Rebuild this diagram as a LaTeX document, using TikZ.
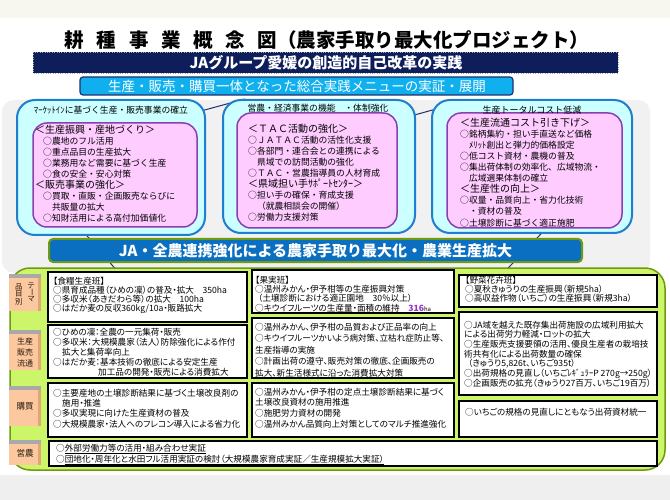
\documentclass[tikz,border=0pt]{standalone}
\usepackage{fontspec}
\setmainfont{Noto Sans CJK JP}
\newfontfamily\pj[RawFeature=+palt]{Noto Sans CJK JP}
\definecolor{topc}{HTML}{F7F7F0}
\definecolor{botc}{HTML}{EFEFEF}
\definecolor{bgg}{HTML}{F1F1F1}
\definecolor{navyc}{HTML}{0E1E5B}
\definecolor{navyl}{HTML}{1F2F6F}
\definecolor{cyanbar}{HTML}{10B0EE}
\definecolor{cloudf}{HTML}{CCFFFF}
\definecolor{cloudb}{HTML}{1E7FCF}
\definecolor{innerf}{HTML}{FFCCFF}
\definecolor{innerb}{HTML}{8A3FB0}
\definecolor{jablue}{HTML}{0A6FC0}
\definecolor{olivec}{HTML}{6F9A10}
\definecolor{panelg}{HTML}{CCF56A}
\definecolor{tabc}{HTML}{FCC8A0}
\definecolor{tabd}{HTML}{E2A676}
\definecolor{tabs}{HTML}{A9A9A9}
\definecolor{labc}{HTML}{2A1A0A}
\definecolor{purp}{HTML}{9933CC}
\newcommand{\myhd}[1]{{\fontsize{10}{11}\selectfont #1}}
\newcommand{\mytab}[2]{%
  \fill[tabc] (9,#1) rectangle (41,#2);
  \fill[tabd] (38,#1) rectangle (41,#2);
  \fill[tabs] (9,#1) rectangle (41,#1+4);}
\begin{document}
\begin{tikzpicture}[x=1pt,y=-1pt,
  cloud/.style={draw=cloudb,line width=2pt,fill=cloudf,rounded corners=18pt},
  innerbox/.style={draw=innerb,line width=1.5pt,fill=innerf,rounded corners=14pt},
  tbox/.style={draw=black,line width=1.6pt,fill=white},
  txt/.style={anchor=north west,align=left,inner sep=0pt,text=black},
  ctitle/.style={inner sep=0pt,font=\fontsize{8.8}{10}\selectfont},
  cbody/.style={txt,font=\fontsize{8.8}{11}\selectfont},
  lab/.style={inner sep=0pt,align=center,text=labc,font=\fontsize{8}{11}\selectfont},
  deco/.style={draw=navyl,line width=1pt}]
\useasboundingbox (0,0) rectangle (670,500);
\fill[white] (0,0) rectangle (670,500);
\fill[topc] (0,0) rectangle (670,18);
\fill[botc] (0,475) rectangle (670,500);
\fill[bgg,rounded corners=12pt] (2,100) rectangle (650,273);
% decorative lines behind
\coordinate (d1a) at (190,114); \coordinate (d1b) at (245,99);
\coordinate (d2a) at (400,119); \coordinate (d2b) at (447,106);
\coordinate (d3a) at (78.6,226); \coordinate (d3b) at (121.4,276);
\coordinate (d4a) at (548.6,226); \coordinate (d4b) at (500.4,276);
\draw[deco] (d1a)--(d1b) (d2a)--(d2b) (d3a)--(d3b) (d4a)--(d4b);
% title
\node[inner sep=0pt,font=\bfseries\fontsize{19.5}{22}\selectfont] (title) at (327,40) {耕\hspace{0.65em}種\hspace{0.65em}事\hspace{0.65em}業\hspace{0.65em}概\hspace{0.65em}念\hspace{0.65em}図（農家手取り最大化プロジェクト）};
% navy bar
\fill[navyc] (33,52) rectangle (618,73);
\draw[gray!70,dotted] (33,52) rectangle (618,73);
\node[inner sep=0pt,text=white,font=\bfseries\fontsize{15}{17}\selectfont] (bar1) at (326,62.5) {JAグループ愛媛の創造的自己改革の実践};
% cyan bar
\draw[fill=cyanbar,draw=navyl,line width=1.2pt,rounded corners=3pt] (80,77) rectangle (513,95);
\node[inner sep=0pt,text=white,font=\fontsize{13.5}{15}\selectfont] (bar2) at (297,86) {生産・販売・購買一体となった総合実践メニューの実証・展開};
% clouds
\draw[cloud] (17,100) rectangle (205,235);
\draw[innerbox] (33,123) rectangle (197,227);
\draw[cloud] (223,100) rectangle (415,233);
\draw[innerbox] (237,113) rectangle (397,228);
\draw[cloud] (432,100) rectangle (632,233);
\draw[innerbox] (447,113) rectangle (622,228);
\node[ctitle] (lt) at (111,110) {ﾏｰｹｯﾄｲﾝに基づく生産・販売事業の確立};
\node[ctitle] (mt) at (318,108) {営農・経済事業の機能　・体制強化};
\node[ctitle,font=\fontsize{9}{10}\selectfont] (rt) at (532,110) {生産トータルコスト低減};
\node[cbody] (ltxt) at (35,125) {\myhd{＜生産振興・産地づくり＞}\\\hspace*{8pt}○農地のフル活用\\\hspace*{8pt}○重点品目の生産拡大\\\hspace*{8pt}○業務用など需要に基づく生産\\\hspace*{8pt}○食の安全・安心対策\\\myhd{＜販売事業の強化＞}\\\hspace*{8pt}○買取・直販・企画販売ならびに\\\hspace*{8pt}　共販量の拡大\\\hspace*{8pt}○知財活用による高付加価値化};
\node[cbody] (mtxt) at (248,123.5) {\myhd{＜ＴＡＣ活動の強化＞}\\○ＪＡＴＡＣ活動の活性化支援\\○各部門・連合会との連携による\\　県域での訪問活動の強化\\○ＴＡＣ・営農指導員の人材育成\\\myhd{＜県域担い手ｻﾎﾟｰﾄｾﾝﾀｰ＞}\\○担い手の確保・育成支援\\　（就農相談会の開催）\\○労働力支援対策};
\node[cbody,font=\fontsize{8.8}{11.1}\selectfont] (rtxt) at (460,117.5) {\myhd{＜生産流通コスト引き下げ＞}\\○銘柄集約・担い手直送など価格\\　ﾒﾘｯﾄ創出と弾力的価格設定\\○低コスト資材・農機の普及\\○集出荷体制の効率化、広域物流・\\　広域選果体制の確立\\\myhd{＜生産性の向上＞}\\○収量・品質向上・省力化技術\\　・資材の普及\\○土壌診断に基づく適正施肥};
% JA banner
\draw[fill=jablue,draw=olivec,line width=2pt,rounded corners=4pt] (49,239) rectangle (582,262);
\node[inner sep=0pt,text=white,font=\bfseries\fontsize{15}{17}\selectfont] (ja) at (315.5,250.5) {JA・全農連携強化による農家手取り最大化・農業生産拡大};
% panel
\draw[fill=panelg,draw=olivec,line width=1.5pt,rounded corners=20pt] (10,268) rectangle (665,470);
% tabs
\mytab{274}{311}
\mytab{330}{370}
\mytab{386}{426}
\mytab{440}{465}
\node[lab,font=\fontsize{7.5}{7.5}\selectfont] (l1a) at (19,294) {品\\目\\別};
\node[lab,font=\fontsize{7.5}{7.5}\selectfont] (l1b) at (31,286) {テ};
\node[lab,font=\fontsize{7.5}{7.5}\selectfont] (l1c) at (31,292.5) {\rotatebox[origin=c]{-90}{ー}};
\node[lab,font=\fontsize{7.5}{7.5}\selectfont] (l1d) at (31,299.5) {マ};
\node[lab] (l2) at (25,352) {生産\\販売\\流通};
\node[lab,font=\fontsize{8.5}{10}\selectfont] (l3) at (25,406) {購買};
\node[lab,font=\fontsize{8.5}{10}\selectfont] (l4) at (25,453) {営農};
% table boxes
\draw[tbox] (48,272) rectangle (247,322);
\draw[tbox] (252,270) rectangle (454,313);
\draw[tbox] (459,275) rectangle (657,307);
\draw[tbox] (48,325) rectangle (247,378);
\draw[tbox] (252,318) rectangle (454,378);
\draw[tbox] (459,312) rectangle (657,395);
\draw[tbox] (48,383) rectangle (247,437);
\draw[tbox] (252,383) rectangle (454,437);
\draw[tbox] (459,401) rectangle (657,437);
\draw[tbox] (49,441) rectangle (657,466);
% table texts
\node[txt,font=\pj\fontsize{8.6}{9.2}\selectfont] (r1c1) at (53,276.7) {【食糧生産班】\\○県育成品種（ひめの凜）の普及・拡大　350ha\\○多収米（あきだわら等）の拡大　100ha\\○はだか麦の反収360kg/10a・販路拡大};
\node[txt,font=\pj\fontsize{8.6}{9.3}\selectfont] (r1c2) at (255,275.7) {【果実班】\\○温州みかん・伊予柑等の生産振興対策\\\hspace*{3pt}（土壌診断における適正園地　30％以上）\\○キウイフルーツの生産量・面積の維持　{\color{purp}\bfseries 316}{\fontsize{6}{6}\selectfont ha}};
\node[txt,font=\pj\fontsize{8.6}{9.2}\selectfont] (r1c3) at (465,275.7) {【野菜花卉班】\\○夏秋きゅうりの生産振興（新規5ha）\\○高収益作物（いちご）の生産振興（新規3ha）};
\node[txt,font=\pj\fontsize{8.6}{10.2}\selectfont] (r2c1) at (53,327.7) {○ひめの凜：全農の一元集荷・販売\\○多収米：大規模農家（法人）防除強化による作付\\\hspace*{9pt}拡大と集荷率向上\\○はだか麦：基本技術の徹底による安定生産\\\hspace*{45pt}加工品の開発・販売による消費拡大};
\node[txt,font=\pj\fontsize{8.6}{11.5}\selectfont] (r2c2) at (255,322.7) {○温州みかん、伊予柑の品質および正品率の向上\\○キウイフルーツかいよう病対策、立枯れ症防止等、\\生産指導の実施\\○計画出荷の遵守、販売対策の徹底、企画販売の\\拡大、新生活様式に沿った消費拡大対策};
\node[txt,font=\pj\fontsize{8.6}{9.7}\selectfont] (r2c3) at (464,320.7) {○JA域を越えた既存集出荷施設の広域利用拡大\\による出荷労力軽減・ロットの拡大\\○生産販売支援要領の活用、優良生産者の栽培技\\術共有化による出荷数量の確保\\\hspace*{4pt}（きゅうり5,826t、いちご935t）\\○出荷規格の見直し（いちごﾚｷﾞｭﾗｰP 270g→250g）\\○企画販売の拡充（きゅうり27百万、いちご19百万）};
\node[txt,font=\pj\fontsize{8.6}{10.3}\selectfont] (r3c1) at (53,388.7) {○主要産地の土壌診断結果に基づく土壌改良剤の\\\hspace*{9pt}施用・推進\\○多収実現に向けた生産資材の普及\\○大規模農家・法人へのフレコン導入による省力化};
\node[txt,font=\pj\fontsize{8.6}{10.7}\selectfont] (r3c2) at (255,387.7) {○温州みかん・伊予柑の定点土壌診断結果に基づく\\土壌改良資材の施用推進\\○施肥労力資材の開発\\○温州みかん品質向上対策としてのマルチ推進強化};
\node[txt,font=\pj\fontsize{8.6}{10}\selectfont] (r3c3) at (465,407.7) {○いちごの規格の見直しにともなう出荷資材統一};
\node[txt,font=\pj\fontsize{8.6}{11}\selectfont] (r4) at (56,443.7) {○\underline{外部労働力等の活用・組み合わせ実証}\\○\underline{団地化・周年化と水田フル活用実証の検討（大規模農家育成実証／生産規模拡大実証）}};
\end{tikzpicture}
\end{document}
